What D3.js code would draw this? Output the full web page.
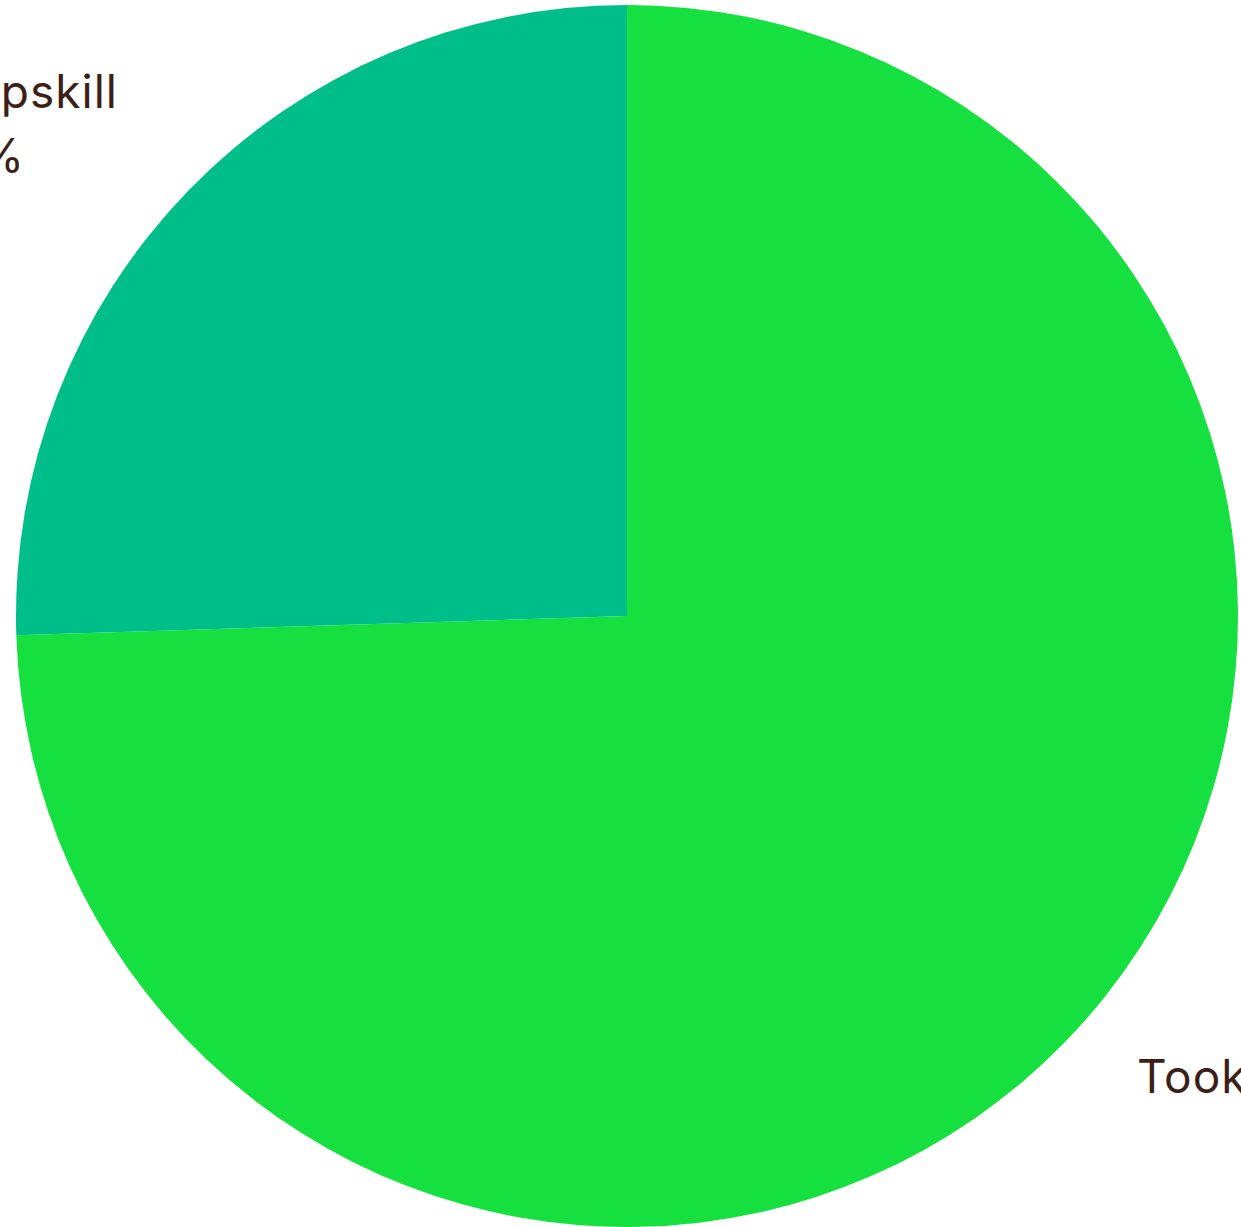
<!DOCTYPE html>
<html>
<head>
<meta charset="utf-8">
<script src="https://cdn.jsdelivr.net/npm/d3@7"></script>
<style>
  html, body { margin: 0; padding: 0; background: #ffffff; overflow: hidden; }
  svg { display: block; }
</style>
</head>
<body>
<svg id="chart" width="1241" height="1227"></svg>
<script>
// Share of respondents by upskilling status
const categories = ["Took an upskilling course", "Did not upskill"];
const shares = [74.5, 25.5];
const shareLabels = ["74.5%", "25.5%"];
const sliceColors = ["#16e040", "#00be8a"];

const svg = d3.select("#chart");
const cx = 627, cy = 616, radius = 611;

const data = categories.map((c, i) => ({ name: c, value: shares[i], label: shareLabels[i], color: sliceColors[i] }));

// Clockwise from 12 o'clock: the large slice first, the small one closes the circle
const pie = d3.pie().sort(null).value(d => d.value);
const arc = d3.arc().innerRadius(0).outerRadius(radius);

const g = svg.append("g").attr("transform", `translate(${cx},${cy})`);
g.selectAll("path")
  .data(pie(data))
  .join("path")
  .attr("d", arc)
  .attr("fill", d => d.data.color);

// Outside labels, two lines each
const font = "Inter, 'DejaVu Sans', sans-serif";
const labelColor = "#3b1f18";
const labelPos = [
  { x: 1137, y: 1093, anchor: "start" },
  { x: 118, y: 108, anchor: "end", x2: 25 }
];

data.forEach((d, i) => {
  const p = labelPos[i];
  const t = svg.append("text")
    .attr("font-family", font)
    .attr("font-size", 46)
    .attr("letter-spacing", 1)
    .attr("fill", labelColor)
    .attr("text-anchor", p.anchor);
  t.append("tspan").attr("x", p.x).attr("y", p.y).text(d.name);
  t.append("tspan")
    .attr("x", p.x2 !== undefined ? p.x2 : p.x + 300)
    .attr("y", p.y + 64)
    .text(d.label);
});
</script>
</body>
</html>
